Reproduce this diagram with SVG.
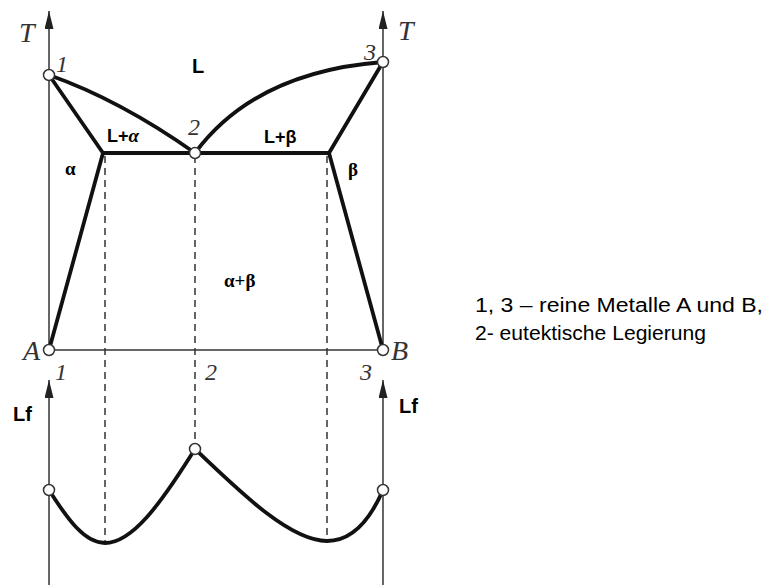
<svg xmlns="http://www.w3.org/2000/svg" width="769" height="585" viewBox="0 0 769 585">
<defs>
<marker id="arr" viewBox="0 0 18 9" refX="18" refY="4.5" markerWidth="18" markerHeight="9" markerUnits="userSpaceOnUse" orient="auto">
<path d="M0,0 L18,4.5 L0,9 Z" fill="#222"/>
</marker>
<style>
.axis{stroke:#333;stroke-width:1.5;fill:none}
.thick{stroke:#111;stroke-width:3.8;fill:none;stroke-linejoin:round}
.dash{stroke:#333;stroke-width:1.5;fill:none;stroke-dasharray:7,5}
.pt{fill:#fff;stroke:#333;stroke-width:1.5}
.it{font-family:"Liberation Serif",serif;font-style:italic;font-size:24px;fill:#333}
.big{font-size:28px}
.lb{font-family:"Liberation Sans",Arial,sans-serif;font-weight:bold;font-size:18px;fill:#000}
.lb20{font-size:20px}
.gr{font-family:"Liberation Serif",serif;font-weight:bold;font-size:19px;fill:#000}
.leg{font-family:"Liberation Sans",Arial,sans-serif;font-size:20px;fill:#000}
</style>
</defs>
<rect width="769" height="585" fill="#fff"/>
<g id="axes">
<line class="axis" x1="49" y1="585" x2="49" y2="380" marker-end="url(#arr)"/>
<line class="axis" x1="49" y1="350" x2="49" y2="11" marker-end="url(#arr)"/>
<line class="axis" x1="383" y1="350" x2="383" y2="11" marker-end="url(#arr)"/>
<line class="axis" x1="383" y1="585" x2="383" y2="380" marker-end="url(#arr)"/>
<line class="axis" x1="49" y1="350" x2="383" y2="350"/>
</g>
<g id="connectors">
<line class="dash" x1="105" y1="156" x2="105" y2="543"/>
<line class="dash" x1="195" y1="156" x2="195" y2="449"/>
<line class="dash" x1="327" y1="156" x2="327" y2="541"/>
<path class="thick" d="M49,75 Q120,100 195,153"/>
<path class="thick" d="M195,153 Q255,72 383,62"/>
<path class="thick" d="M49,75 L103,153 L49,350"/>
<path class="thick" d="M383,62 L329,153 L383,350"/>
<path class="thick" d="M103,153 L329,153"/>
<path class="thick" d="M49,490 C68,520 85,543 105,543 C132,543 160,505 195,449"/>
<path class="thick" d="M195,449 C240,492 290,541 327,541 C352,541 370,520 383,490"/>
</g>
<g id="points">
<circle class="pt" cx="49" cy="75" r="5.5"/>
<circle class="pt" cx="195" cy="153" r="5.5"/>
<circle class="pt" cx="383" cy="62" r="5.5"/>
<circle class="pt" cx="49" cy="350" r="5.5"/>
<circle class="pt" cx="383" cy="350" r="5.5"/>
<circle class="pt" cx="49" cy="490" r="5.5"/>
<circle class="pt" cx="195" cy="449" r="5.5"/>
<circle class="pt" cx="383" cy="490" r="5.5"/>
</g>
<g id="labels">
<text class="it big" x="19" y="42">T</text>
<text class="it big" x="398" y="40">T</text>
<text class="it" x="56" y="72">1</text>
<text class="it" x="188" y="135">2</text>
<text class="it" x="364" y="60">3</text>
<text class="it big" x="23" y="360">A</text>
<text class="it big" x="391" y="360">B</text>
<text class="it" x="55" y="380">1</text>
<text class="it" x="205" y="380">2</text>
<text class="it" x="360" y="380">3</text>
<text class="lb lb20" x="192" y="73">L</text>
<text class="lb" x="107" y="142">L+<tspan class="gr" font-style="italic">α</tspan></text>
<text class="lb" x="264" y="143">L+β</text>
<text class="gr" x="65" y="175">α</text>
<text class="gr" x="348" y="176">β</text>
<text class="gr" x="224" y="287">α+β</text>
<text class="lb lb20" x="13" y="421">Lf</text>
<text class="lb lb20" x="399" y="413">Lf</text>
<text class="leg" x="475" y="312" textLength="288" lengthAdjust="spacingAndGlyphs">1, 3 – reine Metalle A und B,</text>
<text class="leg" x="475" y="340" textLength="231" lengthAdjust="spacingAndGlyphs">2- eutektische Legierung</text>
</g>
</svg>
